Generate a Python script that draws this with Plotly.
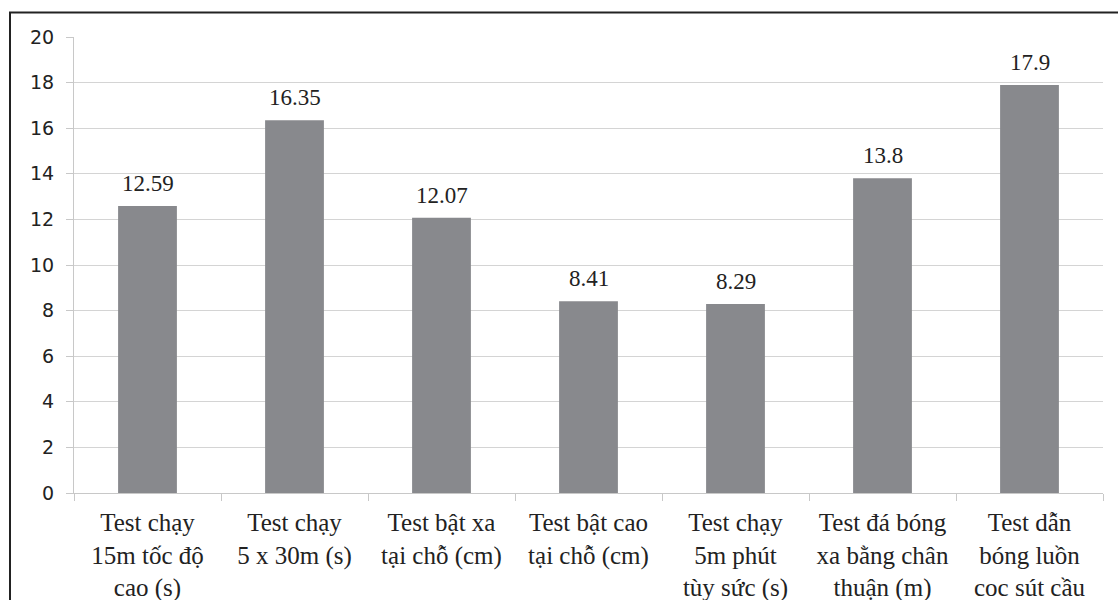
import plotly.graph_objects as go

# Test names (category axis) and mean results
categories = [
    "Test chạy<br>15m tốc độ<br>cao (s)",
    "Test chạy<br>5 x 30m (s)",
    "Test bật xa<br>tại chỗ (cm)",
    "Test bật cao<br>tại chỗ (cm)",
    "Test chạy<br>5m phút<br>tùy sức (s)",
    "Test đá bóng<br>xa bằng chân<br>thuận (m)",
    "Test dẫn<br>bóng luồn<br>coc sút cầu",
]
values = [12.59, 16.35, 12.07, 8.41, 8.29, 13.8, 17.9]
value_labels = ["12.59", "16.35", "12.07", "8.41", "8.29", "13.8", "17.9"]
y_ticks = [0, 2, 4, 6, 8, 10, 12, 14, 16, 18, 20]

SERIF = "Liberation Serif"
SANS = "DejaVu Sans"

W, H = 1118, 600
ML, MR, MT, MB = 74, 15, 37, 107

fig = go.Figure()
fig.add_trace(go.Bar(
    x=categories,
    y=values,
    width=0.4,
    marker=dict(color="#88898d", line=dict(width=0)),
    hoverinfo="x+y",
))

# value labels above each bar
for c, v, t in zip(categories, values, value_labels):
    fig.add_annotation(
        x=c, y=v, text=t, showarrow=False,
        yanchor="bottom", yshift=8,
        font=dict(family=SERIF, size=23, color="#222222"),
    )

# outer frame around the chart (right and bottom edges fall outside the page)
pw = W - ML - MR
ph = H - MT - MB
fig.add_shape(
    type="rect", xref="paper", yref="paper",
    x0=(10 - ML) / pw, x1=(1160 - ML) / pw,
    y0=-0.4, y1=(H - MB - 12.5) / ph,
    line=dict(color="#222222", width=2),
    fillcolor="rgba(0,0,0,0)", layer="above",
)

fig.update_layout(
    width=W, height=H,
    margin=dict(l=ML, r=MR, t=MT, b=MB, pad=0, autoexpand=False),
    paper_bgcolor="white",
    plot_bgcolor="white",
    showlegend=False,
)
fig.update_xaxes(
    type="category",
    automargin=False,
    showline=True, linecolor="#c8c8c8", linewidth=1,
    ticks="outside", tickson="boundaries", ticklen=7, tickcolor="#c8c8c8",
    showgrid=False,
    tickfont=dict(family=SERIF, size=25, color="#222222"),
    tickangle=0,
    ticklabelstandoff=7,
)
fig.update_yaxes(
    range=[0, 20],
    tickvals=y_ticks,
    automargin=False,
    showline=True, linecolor="#c8c8c8", linewidth=1,
    ticks="outside", ticklen=7, tickcolor="#c8c8c8",
    showgrid=True, gridcolor="#d4d4d4", gridwidth=1,
    zeroline=False,
    tickfont=dict(family=SANS, size=19, color="#222222"),
    ticklabelstandoff=8,
)

fig.write_html("out.html")
